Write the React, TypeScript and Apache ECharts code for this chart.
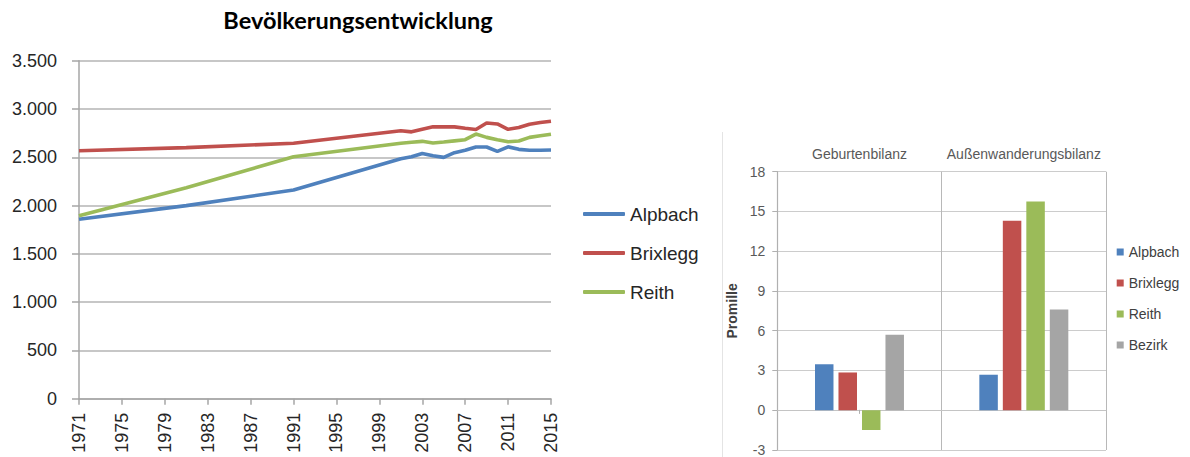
import React, { useEffect, useRef } from "react";
import * as echarts from "echarts";

// ---------- Left chart data (Bevölkerungsentwicklung) ----------
const years = [
  "1971", "1972", "1973", "1974", "1975", "1976", "1977", "1978", "1979", "1980",
  "1981", "1982", "1983", "1984", "1985", "1986", "1987", "1988", "1989", "1990",
  "1991", "1992", "1993", "1994", "1995", "1996", "1997", "1998", "1999", "2000",
  "2001", "2002", "2003", "2004", "2005", "2006", "2007", "2008", "2009", "2010",
  "2011", "2012", "2013", "2014", "2015",
];
const pointYears = [
  "1971", "1981", "1991", "2001", "2002", "2003", "2004", "2005", "2006",
  "2007", "2008", "2009", "2010", "2011", "2012", "2013", "2014", "2015",
];
const alpbach = [1858, 1999, 2161, 2485, 2505, 2540, 2515, 2499, 2548, 2572, 2606, 2606, 2561, 2608, 2582, 2572, 2572, 2575];
const brixlegg = [2568, 2600, 2645, 2775, 2763, 2790, 2815, 2815, 2815, 2800, 2788, 2855, 2845, 2790, 2808, 2842, 2860, 2873];
const reith = [1895, 2185, 2506, 2645, 2655, 2665, 2648, 2658, 2670, 2682, 2740, 2706, 2682, 2660, 2668, 2706, 2722, 2738];
const lineNames = ["Alpbach", "Brixlegg", "Reith"];
const lineTitle = "Bevölkerungsentwicklung";

// ---------- Right chart data (Promille) ----------
const barCategories = ["Geburtenbilanz", "Außenwanderungsbilanz"];
const barNames = ["Alpbach", "Brixlegg", "Reith", "Bezirk"];
const barAlpbach = [3.47, 2.68];
const barBrixlegg = [2.85, 14.3];
const barReith = [-1.49, 15.75];
const barBezirk = [5.7, 7.6];
const barAxisName = "Promille";

const COLORS = ["#4F81BD", "#C0504D", "#9BBB59", "#A5A5A5"];
const FONT = "Liberation Sans, Arial, sans-serif";

function fmtThousands(v: number): string {
  if (v >= 1000) {
    const t = Math.floor(v / 1000);
    const r = String(v % 1000).padStart(3, "0");
    return t + "." + r;
  }
  return String(v);
}

function LeftChart() {
  const ref = useRef<HTMLDivElement>(null);
  useEffect(() => {
    if (!ref.current) return;
    const chart = echarts.init(ref.current, null, { renderer: "svg" });
    const seriesData = [alpbach, brixlegg, reith];
    chart.setOption({
      animation: false,
      color: COLORS,
      graphic: [
        {
          type: "text",
          x: 358,
          y: 20,
          style: {
            text: lineTitle,
            align: "center",
            verticalAlign: "middle",
            font: "bold 23.5px Lato, sans-serif",
            fill: "#000",
          },
        },
      ],
      legend: {
        orient: "vertical",
        left: 578,
        top: 199,
        itemWidth: 42,
        itemHeight: 4,
        itemGap: 19,
        icon: "roundRect",
        itemStyle: { borderWidth: 0 },
        data: lineNames,
        textStyle: { fontFamily: FONT, fontSize: 19, color: "#262626", lineHeight: 20 },
        selectedMode: false,
      },
      grid: { left: 79, right: 165, top: 60.7, bottom: 58.3, containLabel: false },
      xAxis: {
        type: "category",
        data: years,
        boundaryGap: false,
        axisLine: { lineStyle: { color: "#a6a6a6", width: 1.5 } },
        axisTick: { interval: 3, length: 6, lineStyle: { color: "#a6a6a6", width: 1.5 } },
        axisLabel: {
          interval: 3,
          rotate: 90,
          margin: 14,
          fontFamily: FONT,
          fontSize: 18,
          color: "#262626",
        },
        splitLine: { show: false },
      },
      yAxis: {
        type: "value",
        min: 0,
        max: 3500,
        interval: 500,
        axisLine: { show: true, lineStyle: { color: "#a6a6a6", width: 1.5 } },
        axisTick: { show: true, length: 7, lineStyle: { color: "#a6a6a6", width: 1.5 } },
        axisLabel: {
          margin: 22,
          fontFamily: FONT,
          fontSize: 18,
          color: "#262626",
          formatter: (v: number) => fmtThousands(v),
        },
        splitLine: { lineStyle: { color: "#b4b4b4", width: 1.5 } },
      },
      series: lineNames.map((name, i) => ({
        name,
        type: "line",
        symbol: "none",
        lineStyle: { width: 3.6, color: COLORS[i] },
        itemStyle: { color: COLORS[i] },
        data: pointYears.map((y, k) => [y, seriesData[i][k]]),
      })),
    });
    return () => chart.dispose();
  }, []);
  return (
    <div
      ref={ref}
      style={{ position: "absolute", left: 0, top: 0, width: 716, height: 457 }}
    />
  );
}

function RightChart() {
  const ref = useRef<HTMLDivElement>(null);
  useEffect(() => {
    if (!ref.current) return;
    const chart = echarts.init(ref.current, null, { renderer: "svg" });
    const seriesData = [barAlpbach, barBrixlegg, barReith, barBezirk];
    chart.setOption({
      animation: false,
      color: COLORS,
      graphic: [
        {
          type: "line",
          shape: { x1: 22.5, y1: 132, x2: 22.5, y2: 457 },
          style: { stroke: "#e4e4e4", lineWidth: 1 },
        },
      ],
      legend: {
        orient: "vertical",
        left: 411.7,
        top: 239,
        itemWidth: 7,
        itemHeight: 7,
        itemGap: 15,
        icon: "rect",
        data: barNames,
        textStyle: { fontFamily: FONT, fontSize: 14, color: "#404040", lineHeight: 16 },
        selectedMode: false,
      },
      grid: { left: 77.3, right: 84, top: 171.7, bottom: 4.3, containLabel: false },
      xAxis: [
        {
          type: "category",
          data: barCategories,
          position: "top",
          axisLine: { show: false },
          axisTick: { show: false },
          axisLabel: { interval: 0, margin: 11, fontFamily: FONT, fontSize: 14, color: "#595959" },
          splitLine: { show: true, interval: 0, lineStyle: { color: "#b8b8b8", width: 1 } },
        },
        {
          type: "category",
          data: barCategories,
          position: "bottom",
          offset: -40.14,
          axisLine: { show: true, onZero: false, lineStyle: { color: "#c4c4c4", width: 1 } },
          axisTick: { show: true, alignWithLabel: true, length: 4, lineStyle: { color: "#b0b0b0" } },
          axisLabel: { show: false },
          splitLine: { show: false },
        },
      ],
      yAxis: {
        type: "value",
        min: -3,
        max: 18,
        interval: 3,
        name: barAxisName,
        nameLocation: "middle",
        nameRotate: 90,
        nameGap: 36,
        nameTextStyle: { fontFamily: FONT, fontSize: 14, fontWeight: "bold", color: "#404040" },
        axisLine: { show: true, lineStyle: { color: "#b0b0b0", width: 1.2 } },
        axisTick: { show: true, length: 5, lineStyle: { color: "#b0b0b0" } },
        axisLabel: { margin: 12, fontFamily: FONT, fontSize: 14, color: "#595959" },
        splitLine: { lineStyle: { color: "#cccccc", width: 1.2 } },
      },
      series: barNames.map((name, i) => ({
        name,
        type: "bar",
        xAxisIndex: 0,
        yAxisIndex: 0,
        barWidth: 18.5,
        barGap: "27%",
        itemStyle: { color: COLORS[i] },
        data: seriesData[i],
      })),
    });
    return () => chart.dispose();
  }, []);
  return (
    <div
      ref={ref}
      style={{ position: "absolute", left: 700, top: 0, width: 490, height: 457 }}
    />
  );
}

export default function App() {
  return (
    <div
      style={{
        position: "fixed",
        left: 0,
        top: 0,
        width: 1190,
        height: 457,
        background: "#ffffff",
        overflow: "hidden",
      }}
    >
      <LeftChart />
      <RightChart />
    </div>
  );
}
